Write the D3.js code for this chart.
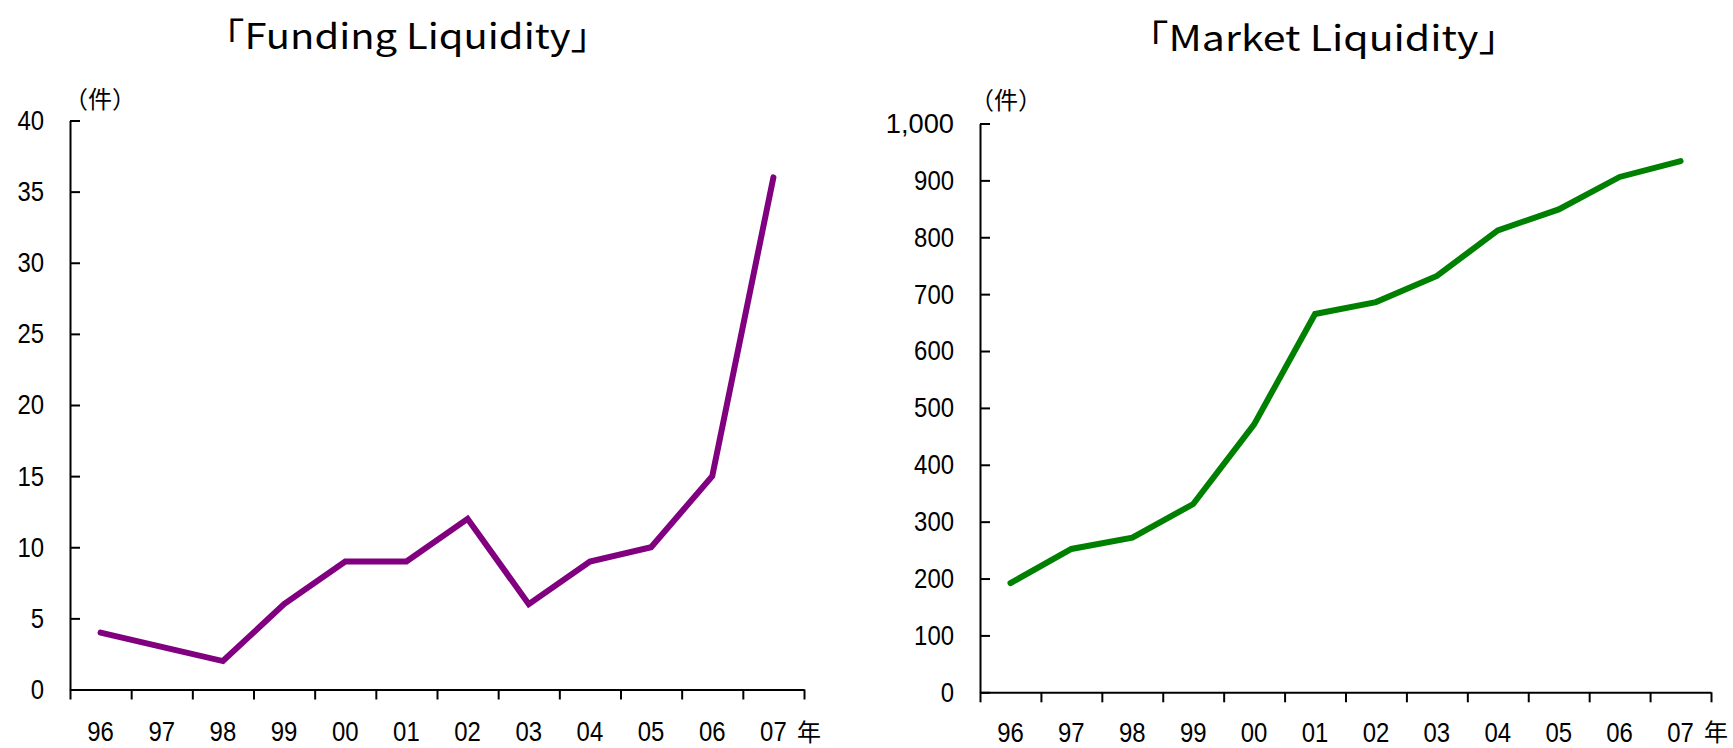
<!DOCTYPE html>
<html>
<head>
<meta charset="utf-8">
<script src="https://cdn.jsdelivr.net/npm/d3@7/dist/d3.min.js"></script>
<style>
  html, body { margin: 0; padding: 0; background: #fff; }
  svg { display: block; }
  .tick-label { font-family: "Liberation Sans", Arial, sans-serif; font-size: 28px; fill: #000; }
  .jp { font-family: "Noto Sans CJK JP", sans-serif; fill: #000; }
</style>
</head>
<body>
<svg id="chart" width="1733" height="748"></svg>
<script>
// Years on the horizontal axis (1996–2007)
const years = ["96", "97", "98", "99", "00", "01", "02", "03", "04", "05", "06", "07"];

// Number of papers per year
const fundingCounts = [4, 3, 2, 6, 9, 9, 12, 6, 9, 10, 15, 36];
const marketCounts = [192, 252, 272, 331, 471, 665, 686, 732, 812, 849, 906, 934];

// Vertical axis ticks
const fundingTicks = [0, 5, 10, 15, 20, 25, 30, 35, 40];
const marketTicks = [0, 100, 200, 300, 400, 500, 600, 700, 800, 900, 1000];

const panelTitles = ["「Funding Liquidity」", "「Market Liquidity」"];
const unitLabel = "（件）";
const yearLabel = "年";

const svg = d3.select("#chart");

// narrow digit face: fixed advance per digit, wider gap for the comma
const digitW = 13.3, commaW = 15;
function labelWidth(s) {
  let w = 0;
  for (const c of s) w += (c === ",") ? commaW : digitW;
  return w;
}

function drawPanel(opts) {
  const g = svg.append("g");

  const x = d3.scaleBand().domain(years).range([opts.left, opts.right]).padding(0);
  const xEdges = d3.scaleLinear().domain([0, years.length]).range([opts.left, opts.right]);
  const y = d3.scaleLinear().domain([0, opts.max]).range([opts.bottom, opts.top]);

  // title (corner brackets carry half an em of side bearing)
  const titleSize = 35;
  g.append("text")
    .attr("class", "jp")
    .attr("x", opts.titleInkL - titleSize * 0.5)
    .attr("y", opts.titleY)
    .attr("font-size", titleSize)
    .attr("textLength", opts.titleInkR - opts.titleInkL + titleSize)
    .attr("lengthAdjust", "spacingAndGlyphs")
    .text(opts.title);

  // unit label above the value axis
  g.append("text")
    .attr("class", "jp")
    .attr("x", opts.unitX)
    .attr("y", opts.unitY)
    .attr("font-size", 24)
    .attr("dominant-baseline", "central")
    .text(unitLabel);

  // value axis: ticks point into the plot
  const yAxis = g.append("g")
    .attr("transform", `translate(${opts.left},0)`)
    .call(d3.axisLeft(y)
      .tickValues(opts.ticks)
      .tickSizeInner(-10)
      .tickSizeOuter(0)
      .tickPadding(26)
      .tickFormat(opts.format));
  yAxis.select(".domain").attr("stroke", "#000").attr("stroke-width", 2);
  yAxis.selectAll(".tick line").attr("stroke", "#000").attr("stroke-width", 2);
  yAxis.selectAll(".tick text")
    .attr("class", "tick-label")
    .attr("font-family", null).attr("font-size", null)
    .attr("textLength", function () { return labelWidth(this.textContent); })
    .attr("lengthAdjust", "spacingAndGlyphs");

  // year axis: tick marks at the category boundaries
  const xTicks = g.append("g")
    .attr("transform", `translate(0,${opts.bottom})`)
    .call(d3.axisBottom(xEdges)
      .tickValues(d3.range(years.length + 1))
      .tickSizeInner(10)
      .tickSizeOuter(0)
      .tickFormat(""));
  xTicks.select(".domain").attr("stroke", "#000").attr("stroke-width", 2);
  xTicks.selectAll(".tick line").attr("stroke", "#000").attr("stroke-width", 2);

  // year labels centred in each category
  const xLabels = g.append("g")
    .attr("transform", `translate(0,${opts.bottom})`)
    .call(d3.axisBottom(x).tickSize(0).tickPadding(opts.yearPad));
  xLabels.select(".domain").remove();
  xLabels.selectAll(".tick text")
    .attr("class", "tick-label")
    .attr("font-family", null).attr("font-size", null)
    .attr("textLength", function () { return labelWidth(this.textContent); })
    .attr("lengthAdjust", "spacingAndGlyphs");

  // "年" after the last year
  g.append("text")
    .attr("class", "jp")
    .attr("x", opts.yearX)
    .attr("y", 730)
    .attr("font-size", 24)
    .attr("dominant-baseline", "central")
    .text(yearLabel);

  // series line
  const line = d3.line()
    .x((d, i) => x(years[i]) + x.bandwidth() / 2)
    .y(d => y(d));
  g.append("path")
    .datum(opts.values)
    .attr("fill", "none")
    .attr("stroke", opts.color)
    .attr("stroke-width", 6)
    .attr("stroke-linecap", "round")
    .attr("stroke-linejoin", "miter")
    .attr("d", line);
}

drawPanel({
  title: panelTitles[0], titleInkL: 222, titleInkR: 593, titleY: 49,
  unitX: 64, unitY: 97,
  left: 70, right: 804, top: 120.5, bottom: 689.5, yearPad: 32,
  max: 40, ticks: fundingTicks, format: d3.format("d"),
  values: fundingCounts, color: "#800080", yearX: 797
});

drawPanel({
  title: panelTitles[1], titleInkL: 1145, titleInkR: 1502, titleY: 51,
  unitX: 970, unitY: 98,
  left: 980, right: 1711, top: 123.5, bottom: 692.3, yearPad: 29.5,
  max: 1000, ticks: marketTicks, format: d3.format(","),
  values: marketCounts, color: "#008000", yearX: 1704
});
</script>
</body>
</html>
